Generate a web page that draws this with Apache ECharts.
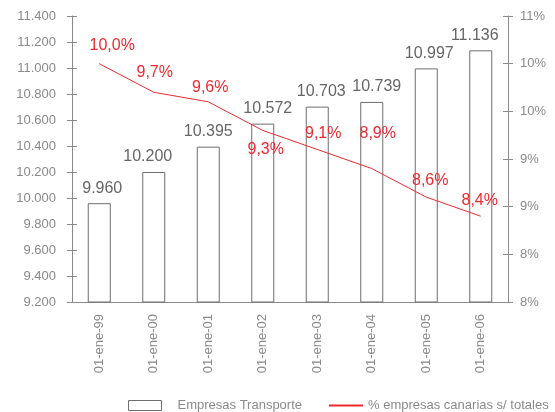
<!DOCTYPE html>
<html>
<head>
<meta charset="utf-8">
<script src="https://cdn.jsdelivr.net/npm/echarts@6/dist/echarts.min.js"></script>
<style>
  html, body { margin: 0; padding: 0; background: #fff; }
  #chart { width: 555px; height: 412px; }
</style>
</head>
<body>
<div id="chart"></div>
<script>
var categories = ['01-ene-99', '01-ene-00', '01-ene-01', '01-ene-02', '01-ene-03', '01-ene-04', '01-ene-05', '01-ene-06'];
var empresasTransporte = [9960, 10200, 10395, 10572, 10703, 10739, 10997, 11136];
var pctCanarias = [10.0, 9.7, 9.6, 9.3, 9.1, 8.9, 8.6, 8.4];

// desplazamiento de las etiquetas (px), como en el original
var barLabelDx = [3, -6, 0, 5, 4, 5, 3, -6];
var pctLabelOffset = [[13, -18], [1, -20], [2, -14], [3, 19], [6, -16], [6, -35], [4, -17], [-1, -16]];

var gray = '#8a8a8a';
var red = '#ee2a2f';
var font = 'Liberation Sans';

function miles(v) {
  return String(v).replace(/\B(?=(\d{3})+(?!\d))/g, '.');
}

var chart = echarts.init(document.getElementById('chart'));

var barData = empresasTransporte.map(function (v, i) {
  return { value: v, label: { offset: [barLabelDx[i], 0] } };
});

var lineData = pctCanarias.map(function (v, i) {
  return { value: v, label: { position: 'inside', offset: pctLabelOffset[i] } };
});

chart.setOption({
  animation: false,
  textStyle: { fontFamily: font },
  grid: { left: 72, right: 47, top: 16, bottom: 110 },
  legend: [{
    top: 399,
    left: 128,
    padding: 0,
    itemWidth: 33,
    itemHeight: 10,
    textStyle: { color: gray, fontSize: 13, fontFamily: font, padding: [0, 0, 0, 11] },
    data: [{
      name: 'Empresas Transporte',
      icon: 'rect',
      itemStyle: { color: '#fff', borderColor: '#6e6e6e', borderWidth: 1 }
    }]
  }, {
    top: 399,
    left: 328,
    padding: 0,
    itemWidth: 34,
    itemHeight: 10,
    textStyle: { color: gray, fontSize: 13, fontFamily: font },
    data: [{
      name: '% empresas canarias s/ totales',
      itemStyle: { opacity: 0 }
    }]
  }],
  xAxis: [{
    type: 'category',
    data: categories,
    position: 'bottom',
    axisLine: { lineStyle: { color: gray } },
    axisTick: { length: 5, lineStyle: { color: gray } },
    axisLabel: { rotate: 90, color: gray, fontSize: 13, margin: 12 }
  }, {
    type: 'category',
    data: categories,
    position: 'bottom',
    axisLine: { show: false },
    axisTick: { inside: true, length: 5, lineStyle: { color: gray } },
    axisLabel: { show: false }
  }],
  yAxis: [{
    type: 'value',
    min: 9200,
    max: 11400,
    interval: 200,
    position: 'left',
    splitLine: { show: false },
    axisLine: { show: true, lineStyle: { color: gray } },
    axisTick: { show: true, length: 5, lineStyle: { color: gray } },
    axisLabel: { color: gray, fontSize: 13, margin: 16, formatter: miles }
  }, {
    type: 'value',
    min: 7.5,
    max: 10.5,
    interval: 0.5,
    position: 'right',
    splitLine: { show: false },
    axisLine: { show: true, lineStyle: { color: gray } },
    axisTick: { show: true, length: 5, lineStyle: { color: gray } },
    axisLabel: {
      color: gray, fontSize: 13, margin: 12,
      formatter: function (v) { return Math.round(v) + '%'; }
    }
  }, {
    type: 'value',
    min: 9200,
    max: 11400,
    interval: 200,
    position: 'left',
    splitLine: { show: false },
    axisLine: { show: false },
    axisTick: { show: true, inside: true, length: 5, lineStyle: { color: gray } },
    axisLabel: { show: false }
  }, {
    type: 'value',
    min: 7.5,
    max: 10.5,
    interval: 0.5,
    position: 'right',
    splitLine: { show: false },
    axisLine: { show: false },
    axisTick: { show: true, inside: true, length: 5, lineStyle: { color: gray } },
    axisLabel: { show: false }
  }],
  series: [{
    name: 'Empresas Transporte',
    type: 'bar',
    yAxisIndex: 0,
    barWidth: 23,
    data: barData,
    itemStyle: { color: '#fff', borderColor: '#6e6e6e', borderWidth: 1 },
    label: {
      show: true,
      position: 'top',
      distance: 7,
      color: '#666',
      fontSize: 16,
      formatter: function (p) { return miles(p.value); }
    }
  }, {
    name: '% empresas canarias s/ totales',
    type: 'line',
    yAxisIndex: 1,
    data: lineData,
    symbol: 'circle',
    symbolSize: 0.1,
    showSymbol: true,
    lineStyle: { color: red, width: 1 },
    itemStyle: { color: red },
    label: {
      show: true,
      color: red,
      fontSize: 16,
      formatter: function (p) { return p.value.toFixed(1).replace('.', ',') + '%'; }
    }
  }]
});
</script>
</body>
</html>
